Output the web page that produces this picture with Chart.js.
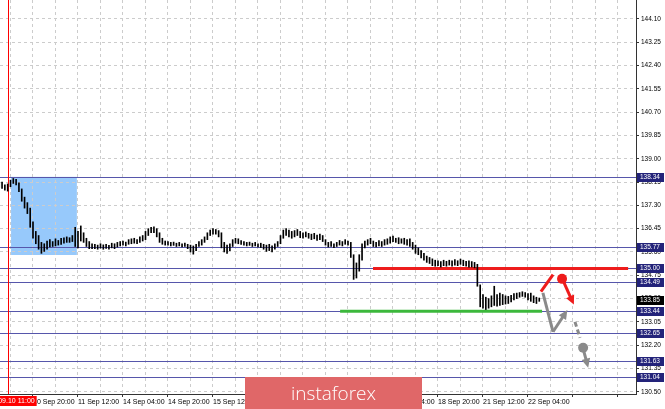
<!DOCTYPE html>
<html><head><meta charset="utf-8">
<script src="https://cdn.jsdelivr.net/npm/chart.js"></script>
<style>html,body{margin:0;padding:0;background:#fff;overflow:hidden}canvas{display:block}</style>
</head><body>
<canvas id="c" width="665" height="409"></canvas>
<script>
// bar index 0 = 10 Sep 20:00, one bar per hour
const barStart = -12;
const highs = [
138.10,138.15,138.05,138.08,138.22,138.28,138.25,138.12,137.90,137.60,137.40,137.20,
136.70,136.35,136.20,135.95,135.90,136.00,136.05,135.98,136.08,136.02,136.10,136.12,136.15,136.12,136.20,136.50,
136.35,136.55,136.30,136.10,135.98,135.90,135.88,135.85,135.90,135.86,135.88,135.84,135.92,135.90,135.95,135.98,
136.00,135.96,136.05,136.08,136.10,136.05,136.15,136.20,136.35,136.45,136.50,136.52,136.45,136.30,136.10,136.00,
135.98,135.95,135.96,135.92,135.95,135.90,135.92,135.88,135.85,135.82,135.88,135.98,136.05,136.15,136.30,136.40,
136.45,136.42,136.38,136.30,135.95,135.85,135.90,136.05,136.10,136.08,136.02,135.98,135.95,135.96,135.92,135.95,
135.90,135.92,135.88,135.85,135.88,135.82,135.90,135.98,136.20,136.40,136.45,136.40,136.35,136.38,136.42,136.35,
136.30,136.33,136.28,136.25,136.28,136.22,136.25,136.20,136.05,135.95,135.98,135.90,135.95,136.02,135.98,136.05,
136.00,135.95,135.50,135.20,135.50,135.90,136.00,136.05,136.10,136.00,135.95,136.02,135.98,136.05,136.08,136.15,
136.18,136.10,136.12,136.08,136.10,136.05,136.08,135.95,135.85,135.75,135.65,135.55,135.45,135.40,135.35,135.30,
135.28,135.25,135.30,135.26,135.30,135.28,135.32,135.28,135.34,135.30,135.26,135.28,135.25,135.22,135.15,134.40,
134.05,133.95,133.90,134.00,134.35,134.05,134.10,134.05,134.00,133.98,134.02,134.08,134.10,134.12,134.15,134.12,
134.08,134.10,134.00,133.95,133.92
];
const lows = [
137.95,137.92,137.85,137.82,137.98,138.10,138.05,137.80,137.45,137.20,137.00,136.50,
136.10,135.90,135.70,135.55,135.62,135.70,135.78,135.80,135.82,135.85,135.88,135.92,135.95,135.95,135.98,135.80,
135.75,136.00,135.95,135.80,135.72,135.72,135.72,135.70,135.74,135.70,135.73,135.70,135.75,135.72,135.78,135.82,
135.85,135.82,135.88,135.90,135.92,135.90,135.95,136.00,136.05,136.20,136.30,136.30,136.15,135.95,135.88,135.85,
135.85,135.82,135.84,135.80,135.82,135.78,135.80,135.72,135.60,135.52,135.65,135.80,135.85,135.95,136.05,136.20,
136.25,136.25,136.15,135.75,135.60,135.55,135.65,135.80,135.92,135.90,135.88,135.85,135.82,135.84,135.80,135.82,
135.78,135.76,135.70,135.62,135.65,135.60,135.70,135.80,135.90,136.10,136.20,136.15,136.10,136.15,136.20,136.12,
136.10,136.15,136.10,136.05,136.08,136.02,136.05,135.98,135.85,135.78,135.80,135.76,135.80,135.85,135.82,135.88,
135.85,135.40,134.60,134.65,134.90,135.30,135.75,135.85,135.90,135.80,135.78,135.82,135.80,135.85,135.88,135.92,
135.98,135.95,135.90,135.92,135.88,135.85,135.80,135.70,135.55,135.50,135.38,135.30,135.22,135.18,135.10,135.08,
135.10,135.05,135.10,135.08,135.12,135.08,135.12,135.10,135.15,135.10,135.08,135.05,135.05,135.02,134.35,133.60,
133.55,133.50,133.55,133.60,133.65,133.62,133.65,133.68,133.70,133.72,133.78,133.85,133.90,133.95,133.98,133.95,
133.85,133.80,133.75,133.72,133.80
];
const timeLabels = ['10 Sep 20:00','11 Sep 12:00','14 Sep 04:00','14 Sep 20:00','15 Sep 12:00','16 Sep 04:00',
  '16 Sep 20:00','17 Sep 12:00','18 Sep 04:00','18 Sep 20:00','21 Sep 12:00','22 Sep 04:00'];
const priceTicks = [130.50,131.35,132.20,133.05,133.90,134.75,135.60,136.45,137.30,138.15,139.00,139.85,140.70,141.55,142.40,143.25,144.10];
const levels = [138.34,135.77,135.00,134.49,133.44,132.65,131.63,131.04];
const currentPrice = 133.85;
const markerTime = {index:-9, label:'2020.09.10 11:00'};
const zoneBox = {from:-7.8, to:15.6, top:138.34, bottom:135.49};
const resistance = {value:135.00, from:120.9, to:211.6};
const support = {value:133.44, from:109.2, to:181};
// scenario arrows: [index, price] pairs
const redStroke = [[180.6,134.15],[184.9,134.77]];
const redDot = [188.1,134.62];
const redArrow = [[188.8,134.48],[192.3,133.68]];
const grayStroke = [[181.3,134.11],[184.9,132.69]];
const grayArrow = [[184.9,132.69],[190.0,133.48]];
const grayDash = [[192.7,133.05],[194.5,132.47]];
const grayDot = [195.6,132.11];
const grayArrow2 = [[195.9,131.96],[197.4,131.38]];

const xMin = -11.73, xMax = 214.4, yMin = 130.42, yMax = 144.79;
const FONT = 'Liberation Sans';

const bars = highs.map((h,k)=>({x: barStart+k, y:[lows[k], h]}));

function arrow(ctx, p1, p2, color, w, head){
  const ang = Math.atan2(p2[1]-p1[1], p2[0]-p1[0]);
  const bx = p2[0]-Math.cos(ang)*head*0.8, by = p2[1]-Math.sin(ang)*head*0.8;
  ctx.strokeStyle=color; ctx.lineWidth=w; ctx.lineCap='butt';
  ctx.beginPath(); ctx.moveTo(p1[0],p1[1]); ctx.lineTo(bx,by); ctx.stroke();
  ctx.fillStyle=color; ctx.beginPath();
  ctx.moveTo(p2[0],p2[1]);
  ctx.lineTo(p2[0]-Math.cos(ang-0.45)*head, p2[1]-Math.sin(ang-0.45)*head);
  ctx.lineTo(p2[0]-Math.cos(ang+0.45)*head, p2[1]-Math.sin(ang+0.45)*head);
  ctx.closePath(); ctx.fill();
}

const overlay = {
  id:'overlay',
  beforeDraw(chart){
    const {ctx, scales:{x,y}} = chart;
    ctx.save();
    ctx.fillStyle='#fff'; ctx.fillRect(0,0,chart.width,chart.height);
    const x1=x.getPixelForValue(zoneBox.from), x2=x.getPixelForValue(zoneBox.to);
    const y1=y.getPixelForValue(zoneBox.top), y2=y.getPixelForValue(zoneBox.bottom);
    ctx.fillStyle='#97c9fb'; ctx.fillRect(x1,y1,x2-x1,y2-y1);
    ctx.restore();
  },
  beforeDatasetsDraw(chart){
    const {ctx, chartArea:a, scales:{x,y}} = chart;
    ctx.save();
    ctx.strokeStyle='#5656ab'; ctx.lineWidth=1;
    levels.forEach(v=>{
      const py=Math.round(y.getPixelForValue(v))+0.5;
      ctx.beginPath(); ctx.moveTo(a.left,py); ctx.lineTo(a.right,py); ctx.stroke();
    });
    const mx=Math.round(x.getPixelForValue(markerTime.index))+0.5;
    ctx.strokeStyle='#ff0000';
    ctx.beginPath(); ctx.moveTo(mx,a.top); ctx.lineTo(mx,a.bottom); ctx.stroke();
    ctx.lineWidth=3;
    ctx.strokeStyle='#ee1c1c';
    let py=y.getPixelForValue(resistance.value);
    ctx.beginPath(); ctx.moveTo(x.getPixelForValue(resistance.from),py); ctx.lineTo(x.getPixelForValue(resistance.to),py); ctx.stroke();
    ctx.strokeStyle='#3cb83c';
    py=y.getPixelForValue(support.value);
    ctx.beginPath(); ctx.moveTo(x.getPixelForValue(support.from),py); ctx.lineTo(x.getPixelForValue(support.to),py); ctx.stroke();
    ctx.restore();
  },
  afterDatasetsDraw(chart){
    const {ctx, scales:{x,y}} = chart;
    const P = p=>[x.getPixelForValue(p[0]), y.getPixelForValue(p[1])];
    ctx.save();
    const red='#ee1c1c', gray='#8a8a8a';
    ctx.strokeStyle=red; ctx.lineWidth=3;
    ctx.beginPath(); ctx.moveTo(...P(redStroke[0])); ctx.lineTo(...P(redStroke[1])); ctx.stroke();
    ctx.fillStyle=red; ctx.beginPath(); ctx.arc(...P(redDot),5,0,Math.PI*2); ctx.fill();
    arrow(ctx,P(redArrow[0]),P(redArrow[1]),red,3,10);
    ctx.strokeStyle=gray; ctx.lineWidth=3;
    ctx.beginPath(); ctx.moveTo(...P(grayStroke[0])); ctx.lineTo(...P(grayStroke[1])); ctx.stroke();
    arrow(ctx,P(grayArrow[0]),P(grayArrow[1]),gray,3,10);
    ctx.setLineDash([5,3]); ctx.strokeStyle=gray;
    ctx.beginPath(); ctx.moveTo(...P(grayDash[0])); ctx.lineTo(...P(grayDash[1])); ctx.stroke();
    ctx.setLineDash([]);
    ctx.fillStyle=gray; ctx.beginPath(); ctx.arc(...P(grayDot),5,0,Math.PI*2); ctx.fill();
    arrow(ctx,P(grayArrow2[0]),P(grayArrow2[1]),gray,3,10);
    ctx.restore();
  },
  afterDraw(chart){
    const {ctx, chartArea:a, scales:{x,y}} = chart;
    ctx.save();
    ctx.font='6.5px "'+FONT+'"'; ctx.textBaseline='middle'; ctx.textAlign='left';
    const box=(v,bg)=>{
      const py=Math.round(y.getPixelForValue(v));
      ctx.fillStyle=bg; ctx.fillRect(a.right+1,py-4,27,9);
      ctx.fillStyle='#fff'; ctx.fillText(v.toFixed(2),a.right+4,py+0.5);
    };
    levels.forEach(v=>box(v,'#23237a'));
    box(currentPrice,'#000');
    // time marker label
    const mx=x.getPixelForValue(markerTime.index);
    ctx.font='7px "'+FONT+'"';
    const tw=ctx.measureText(markerTime.label).width;
    ctx.fillStyle='#ff0000'; ctx.fillRect(mx-tw/2-2,a.bottom+2,tw+4,10);
    ctx.fillStyle='#fff'; ctx.textAlign='center'; ctx.fillText(markerTime.label,mx,a.bottom+7.5);
    // logo
    ctx.fillStyle='#e06768'; ctx.fillRect(245,377,177,32);
    ctx.fillStyle='#fff'; ctx.font='300 19px "Open Sans"'; ctx.textAlign='center'; ctx.textBaseline='alphabetic';
    ctx.fillText('instaforex',333.5,400);
    ctx.restore();
  }
};

new Chart(document.getElementById('c'), {
  type:'bar',
  data:{datasets:[{data:bars, backgroundColor:'#000', borderWidth:0, barThickness:1, grouped:false}]},
  options:{
    responsive:false, animation:false, devicePixelRatio:1,
    layout:{padding:0},
    plugins:{legend:{display:false}, tooltip:{enabled:false}},
    scales:{
      x:{type:'linear', min:xMin, max:xMax, offset:false,
        grid:{offset:false, color:'#cccccc', tickLength:3,
          tickColor:c=>(c.tick && c.tick.value>=0 && c.tick.value%16===0)?'#333':'rgba(0,0,0,0)'},
        border:{display:true, color:'#333', width:1, dash:[3,3]},
        afterBuildTicks:s=>{const t=[];for(let v=-8;v<=xMax;v+=8)t.push({value:v});s.ticks=t;},
        afterFit:s=>{s.height=15;s.paddingLeft=0;s.paddingRight=0;},
        ticks:{autoSkip:false, maxRotation:0, minRotation:0, align:'start', padding:1, color:'#000',
          font:{family:FONT,size:7},
          callback:v=>(v>=0 && v%16===0 && timeLabels[v/16])?timeLabels[v/16]:''}
      },
      y:{position:'right', min:yMin, max:yMax,
        grid:{color:'#cccccc', tickLength:3, tickColor:'#333'},
        border:{display:true, color:'#333', width:1, dash:[3,3]},
        afterBuildTicks:s=>{s.ticks=priceTicks.map(v=>({value:v}));},
        afterFit:s=>{s.width=29;s.paddingTop=0;s.paddingBottom=0;},
        ticks:{padding:2, color:'#000', font:{family:FONT,size:6.5}, callback:v=>v.toFixed(2)}
      }
    }
  },
  plugins:[overlay]
});
</script>
</body></html>
